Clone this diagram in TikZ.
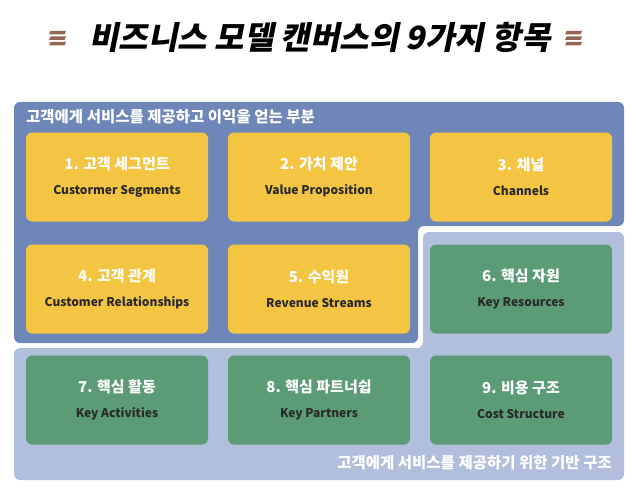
\documentclass[tikz,border=0pt]{standalone}
\usepackage{fontspec}
\setmainfont{Noto Sans CJK KR}
\definecolor{topblue}{HTML}{6E87B8}
\definecolor{lowblue}{HTML}{B1BEDC}
\definecolor{boxyel}{HTML}{F4C443}
\definecolor{boxgrn}{HTML}{5B9C76}
\definecolor{txtdark}{HTML}{2A2A2A}
\definecolor{barbrown}{HTML}{936553}
\begin{document}
\begin{tikzpicture}[x=1pt,y=-1pt,line join=round]
	\tikzset{every node/.style={inner sep=0pt},
		cell/.style={minimum width=182pt,minimum height=89pt,rounded corners=6pt,align=center,font=\fontsize{15}{25}\selectfont},
		yel/.style={cell,fill=boxyel},
		grn/.style={cell,fill=boxgrn},
		bar/.style={fill=barbrown}}
	\useasboundingbox (0,0) rectangle (636,492);
	% title
	\node (title) at (320,37) {\fontsize{32}{36}\selectfont\bfseries\addfontfeature{FakeSlant=0.2}비즈니스 모델 캔버스의 9가지 항목};
	\foreach \bx in {49,565}
	\foreach \by in {31,36.5,42}
	\fill[bar] (\bx+1.5,\by) -- (\bx+17,\by) -- (\bx+15.5,\by+3.5) -- (\bx,\by+3.5) -- cycle;
	% regions
	\fill[topblue,rounded corners=6pt] (14,102) -- (624,102) -- (624,226) -- (418,226) -- (418,343) -- (14,343) -- cycle;
	\fill[lowblue,rounded corners=6pt] (423,232) -- (624,232) -- (624,480) -- (14,480) -- (14,348) -- (423,348) -- cycle;
	\node[anchor=west,text=white,font=\fontsize{15.5}{18}\selectfont\bfseries] (toplbl) at (26,117) {고객에게 서비스를 제공하고 이익을 얻는 부분};
	\node[anchor=east,text=white,font=\fontsize{15.5}{18}\selectfont\bfseries] (lowlbl) at (612,463) {고객에게 서비스를 제공하기 위한 기반 구조};
	% boxes
	\foreach \n/\st/\cx/\cy/\kr/\en in {
		1/yel/117/177/1. 고객 세그먼트/Custormer Segments,
		2/yel/319/177/2. 가치 제안/Value Proposition,
		3/yel/521/177/3. 채널/Channels,
		4/yel/117/289/4. 고객 관계/Customer Relationships,
		5/yel/319/289/5. 수익원/Revenue Streams,
		6/grn/521/289/6. 핵심 자원/Key Resources,
		7/grn/117/400/7. 핵심 활동/Key Activities,
		8/grn/319/400/8. 핵심 파트너쉽/Key Partners,
		9/grn/521/400/9. 비용 구조/Cost Structure}
	\node[\st] (b\n) at (\cx,\cy) {{\color{white}\bfseries\kr}\\{\fontsize{12}{14}\selectfont\bfseries\color{txtdark}\en}};
\end{tikzpicture}
\end{document}
